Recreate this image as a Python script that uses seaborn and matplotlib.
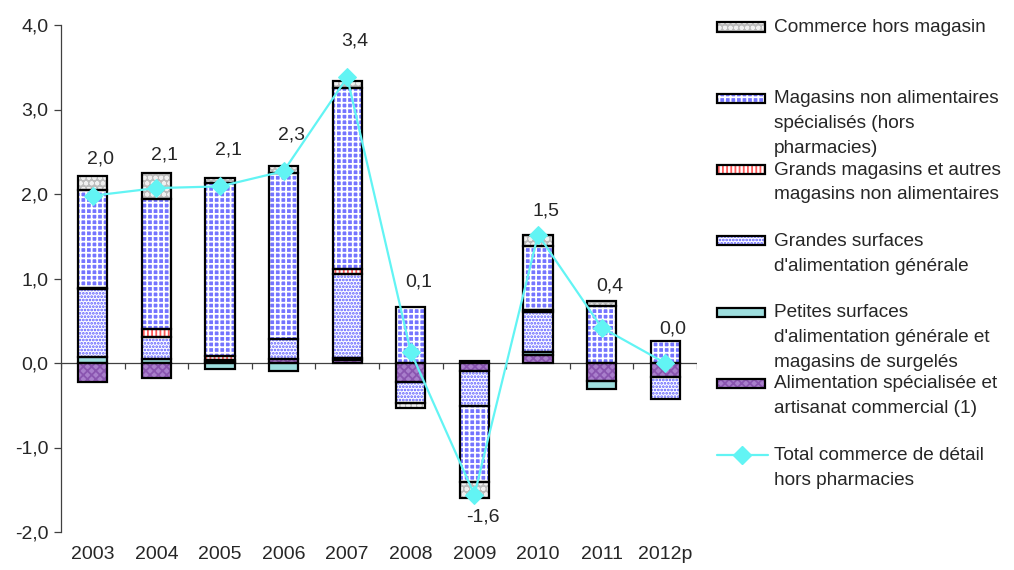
"""
Contributions à l'évolution du commerce de détail (hors pharmacies), 2003-2012p.
Stacked contributions by store type, with the overall total as a line.
"""

import matplotlib.pyplot as plt
import numpy as np
import seaborn as sns
from matplotlib.lines import Line2D
from matplotlib.patches import Rectangle
from matplotlib.ticker import FuncFormatter, MultipleLocator

years = ["2003", "2004", "2005", "2006", "2007", "2008", "2009", "2010", "2011", "2012p"]

# contributions, in stacking order (bottom of stack first)
alim_specialisee = [-0.22, -0.18, 0.01, 0.05, 0.03, -0.23, -0.09, 0.09, -0.21, -0.16]
petites_surfaces = [0.07, 0.05, -0.07, -0.10, 0.03, 0.0, 0.02, 0.04, -0.10, 0.0]
grandes_surfaces = [0.81, 0.26, 0.03, 0.23, 0.99, -0.24, -0.42, 0.47, 0.0, -0.27]
grands_magasins = [0.01, 0.09, 0.04, 0.0, 0.06, 0.0, 0.0, 0.03, 0.0, 0.0]
magasins_non_alim = [1.16, 1.54, 2.05, 1.97, 2.14, 0.66, -0.90, 0.76, 0.67, 0.26]
hors_magasin = [0.16, 0.31, 0.06, 0.08, 0.09, -0.06, -0.19, 0.12, 0.06, 0.0]

total = [1.98, 2.07, 2.09, 2.27, 3.38, 0.13, -1.56, 1.52, 0.42, 0.0]

series = [
    ("Alimentation spécialisée et\nartisanat commercial (1)", alim_specialisee),
    ("Petites surfaces\nd'alimentation générale et\nmagasins de surgelés", petites_surfaces),
    ("Grandes surfaces\nd'alimentation générale", grandes_surfaces),
    ("Grands magasins et autres\nmagasins non alimentaires", grands_magasins),
    ("Magasins non alimentaires\nspécialisés (hors\npharmacies)", magasins_non_alim),
    ("Commerce hors magasin", hors_magasin),
]
total_label = "Total commerce de détail\nhors pharmacies"

# face colour, hatch, hatch colour
STYLES = {
    series[0][0]: ("#a97fcc", "xxxx", "#8a55b0"),
    series[1][0]: ("#9edede", None, "#9edede"),
    series[2][0]: ("white", ".....", "#5a5aff"),
    series[3][0]: ("white", "||||", "#ff5a5a"),
    series[4][0]: ("#7474ff", "+++", "white"),
    series[5][0]: ("#bcbcbc", "ooo", "#f0f0f0"),
}
LINE_COLOR = "#62f4f4"
# label offsets (pixels) above/below each total point
LABEL_DY = [37, 33, 36, 36, 36, 70, -22, 24, 42, 34]

sns.set_style("white")
plt.rcParams["font.family"] = ["Liberation Sans", "DejaVu Sans"]
plt.rcParams["font.size"] = 14
plt.rcParams["hatch.linewidth"] = 1.3

W, H = 1014, 570
fig = plt.figure(figsize=(W / 100, H / 100), dpi=100)
ax = fig.add_axes([61 / W, 1 - 532 / H, (697 - 61) / W, (532 - 25) / H])

x = np.arange(len(years))
bar_w = 0.46
pos_base = np.zeros(len(years))
neg_base = np.zeros(len(years))
for label, vals in series:
    v = np.asarray(vals, dtype=float)
    bottom = np.where(v >= 0, pos_base, neg_base)
    keep = v != 0
    face, hatch, hcol = STYLES[label]
    ax.bar(x[keep], v[keep], bottom=bottom[keep], width=bar_w, color=face,
           edgecolor=hcol, linewidth=0, hatch=hatch, zorder=2)
    ax.bar(x[keep], v[keep], bottom=bottom[keep], width=bar_w, fill=False,
           edgecolor="black", linewidth=1.6, zorder=2.1)
    pos_base += np.clip(v, 0, None)
    neg_base += np.clip(v, None, 0)

sns.lineplot(x=x, y=total, ax=ax, color=LINE_COLOR, linewidth=1.6, marker="D",
             markersize=9, markeredgecolor=LINE_COLOR, zorder=3)

for xi, t, dy in zip(x, total, LABEL_DY):
    ax.annotate(f"{t:.1f}".replace(".", ","), (xi, t), xytext=(8, dy),
                textcoords="offset pixels", ha="center", va="center", fontsize=14)

# axes: zero line with category separators, left axis only
ax.set_xlim(-0.5, len(years) - 0.5)
ax.set_ylim(-2, 4)
ax.axhline(0, color="#404040", linewidth=0.9, zorder=1.5)
ax.vlines(np.arange(len(years) + 1) - 0.5, -0.07, 0, color="#404040", linewidth=0.9)
for side in ["top", "right", "bottom"]:
    ax.spines[side].set_visible(False)
ax.spines["left"].set_color("#404040")
ax.spines["left"].set_linewidth(0.9)
ax.yaxis.set_major_locator(MultipleLocator(1))
ax.yaxis.set_major_formatter(FuncFormatter(lambda v, _: f"{v:.1f}".replace(".", ",")))
ax.tick_params(axis="y", left=True, length=5, width=0.9, color="#404040", pad=4)
ax.set_xticks(x)
ax.set_xticklabels(years)
ax.tick_params(axis="x", length=0, pad=10)

# legend, Excel style: evenly spaced slots, text hanging from the key
legend_items = list(reversed(series))
slot_y = [27 + 71.3 * i for i in range(len(legend_items) + 1)]
for (label, _), y in zip(legend_items, slot_y):
    face, hatch, hcol = STYLES[label]
    fy = 1 - (y + 4.5) / H
    fig.add_artist(Rectangle((717 / W, fy), 48 / W, 9 / H, transform=fig.transFigure,
                             facecolor=face, edgecolor=hcol, hatch=hatch, linewidth=0))
    fig.add_artist(Rectangle((717 / W, fy), 48 / W, 9 / H, transform=fig.transFigure,
                             fill=False, edgecolor="black", linewidth=1.6))
    fig.text(774 / W, 1 - (y - 8) / H, label, ha="left", va="top", fontsize=13.7,
             linespacing=1.6)

y = slot_y[-1]
fig.add_artist(Line2D([717 / W, 768 / W], [1 - y / H] * 2, transform=fig.transFigure,
                      color=LINE_COLOR, linewidth=1.6))
fig.add_artist(Line2D([742 / W], [1 - y / H], transform=fig.transFigure, marker="D",
                      markersize=9, color=LINE_COLOR))
fig.text(774 / W, 1 - (y - 8) / H, total_label, ha="left", va="top", fontsize=13.7,
         linespacing=1.6)

fig.savefig("out.png", dpi=100)
plt.close(fig)
